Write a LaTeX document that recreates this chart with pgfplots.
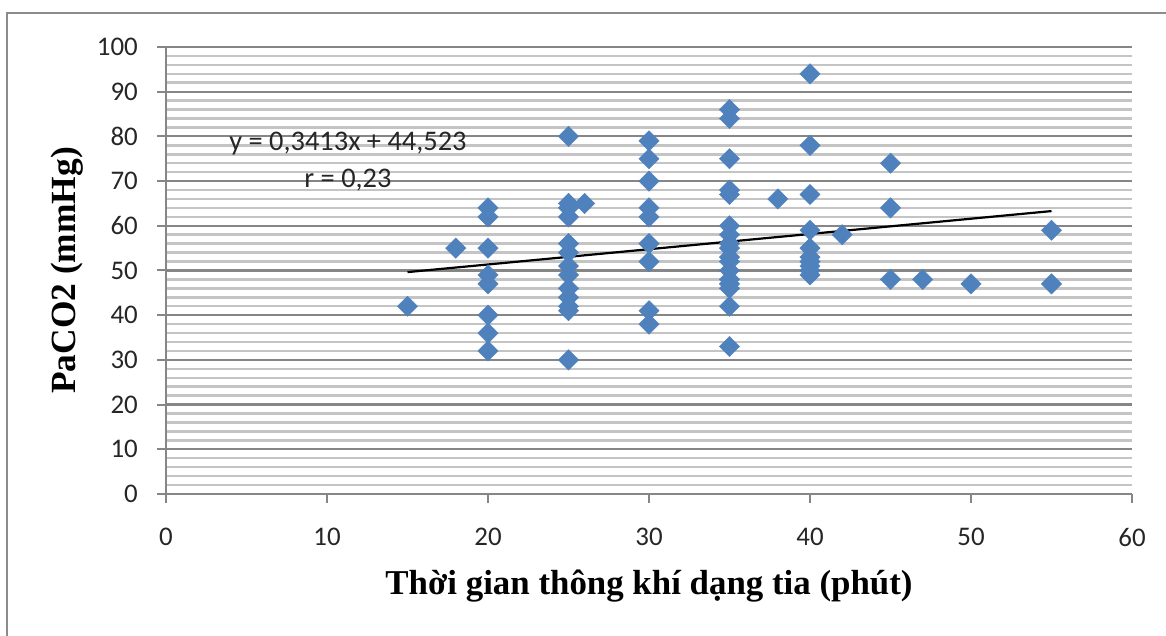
\documentclass[border=0pt]{standalone}
\usepackage{pgfplots}
\pgfplotsset{compat=1.18}
\usepackage{fontspec}
\setmainfont{Liberation Serif}
\newfontfamily\calib{Carlito}
\definecolor{mk}{HTML}{4F81BD}
\definecolor{majgray}{HTML}{868686}
\definecolor{mingray}{HTML}{C4C4C4}
\definecolor{axisgray}{HTML}{868686}
\definecolor{framegray}{HTML}{8C8C8C}
\begin{document}
\begin{tikzpicture}[x=1bp,y=1bp]
\path[use as bounding box] (0,0) rectangle (1166,636);
\draw[framegray, line width=2bp] (7,-5) -- (7,623) -- (1175,623);
\begin{axis}[
  at={(166bp,142bp)}, anchor=south west,
  scale only axis, width=966bp, height=447bp,
  xmin=0, xmax=60, ymin=0, ymax=100,
  xtick={0,10,...,60}, ytick={0,10,...,100},
  minor y tick num=4,
  ymajorgrids, yminorgrids,
  axis lines*=left,
  tick align=outside, major tick length=9bp, minor tick length=0pt,
  every tick/.style={draw=axisgray, line width=2bp},
  axis line style={draw=axisgray, line width=2bp},
  major grid style={draw=majgray, line width=2.2bp},
  minor grid style={draw=mingray, line width=2.5bp},
  /pgf/number format/assume math mode=true,
  tick label style={font=\calib\fontsize{27}{27}\selectfont, text=black!85},
  xticklabel style={anchor=north, inner sep=0pt, yshift=-25bp},
  yticklabel style={anchor=east, inner sep=0pt, xshift=-19bp},
  xlabel={Thời gian thông khí dạng tia (phút)},
  ylabel={PaCO2 (mmHg)},
  every axis x label/.style={at={([yshift=-101bp]axis description cs:0.5,0)}, anchor=base, font=\fontsize{35}{35}\selectfont\bfseries},
  every axis y label/.style={at={([xshift=-91bp]axis description cs:0,0.5)}, anchor=base, rotate=90, font=\fontsize{35.5}{35.5}\selectfont\bfseries},
  clip=false,
]
\addplot[only marks, mark=square*, mark size=7.2bp, mark options={rotate=45, fill=mk, draw=mk}] coordinates {
 (15,42) (18,55)
 (20,64) (20,62) (20,55) (20,49) (20,47) (20,40) (20,36) (20,32)
 (25,80) (25,65) (25,64) (25,62) (25,56) (25,54) (25,51) (25,49) (25,46) (25,44) (25,42) (25,41) (25,30)
 (26,65)
 (30,79) (30,75) (30,70) (30,64) (30,62) (30,56) (30,52) (30,41) (30,38)
 (35,86) (35,84) (35,75) (35,68) (35,67) (35,60) (35,58) (35,56) (35,55) (35,53) (35,52) (35,50) (35,48) (35,47) (35,46) (35,42) (35,33)
 (38,66)
 (40,94) (40,78) (40,67) (40,59) (40,55) (40,53) (40,52) (40,51) (40,50) (40,49)
 (42,58)
 (45,74) (45,64) (45,48)
 (47,48) (50,47)
 (55,59) (55,47)
};
\addplot[black, line width=2.2bp] coordinates {(15,49.64) (55,63.29)};
\node[font=\calib\fontsize{28.5}{28.5}\selectfont, text=black!85] at (axis cs:11.3,78.5) {y = 0,3413x + 44,523};
\node[font=\calib\fontsize{28.5}{28.5}\selectfont, text=black!85] at (axis cs:11.3,70.2) {r = 0,23};
\end{axis}
\end{tikzpicture}
\end{document}
